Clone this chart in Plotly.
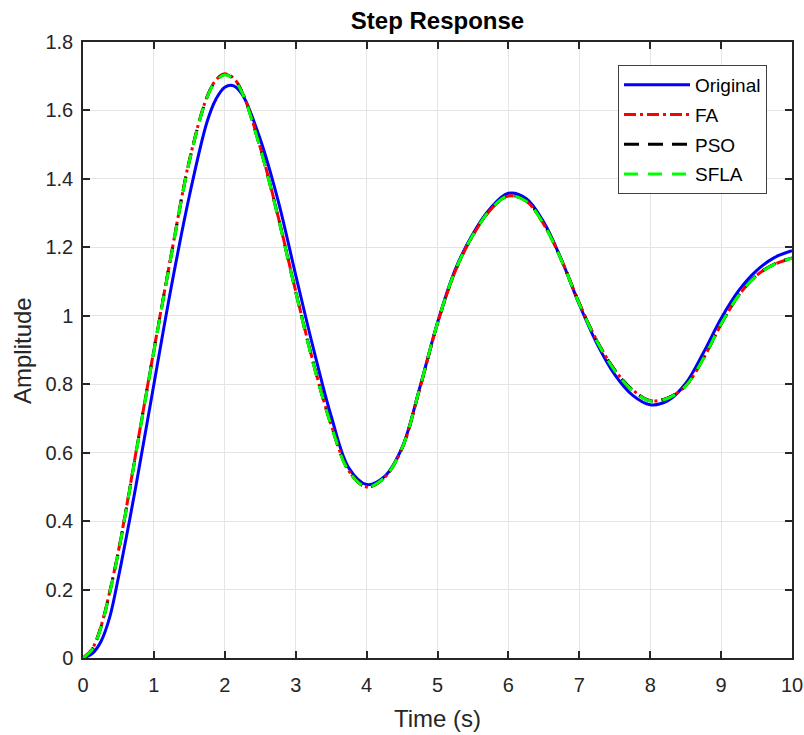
import plotly.graph_objects as go

# ---- data ----
time = [0.0, 0.125, 0.25, 0.375, 0.5, 0.625, 0.75, 1.0, 1.25, 1.5, 1.75, 1.875, 2.0,
        2.125, 2.25, 2.5, 2.75, 3.0, 3.25, 3.5, 3.75, 4.0, 4.25, 4.5, 4.75, 5.0,
        5.25, 5.5, 5.75, 6.0, 6.25, 6.5, 6.75, 7.0, 7.25, 7.5, 7.75, 8.0, 8.25, 8.5,
        8.75, 9.0, 9.25, 9.5, 9.75, 10.0]

original = [0.000, 0.012, 0.047, 0.118, 0.236, 0.368, 0.507, 0.800, 1.090, 1.350,
            1.567, 1.633, 1.668, 1.672, 1.645, 1.516, 1.338, 1.119, 0.904, 0.707,
            0.555, 0.507, 0.530, 0.615, 0.790, 0.980, 1.135, 1.240, 1.315, 1.358,
            1.343, 1.273, 1.163, 1.033, 0.918, 0.828, 0.768, 0.740, 0.752, 0.802,
            0.892, 0.992, 1.074, 1.132, 1.170, 1.190]

fa = [0.000, 0.025, 0.090, 0.192, 0.313, 0.455, 0.605, 0.900, 1.185, 1.454,
      1.640, 1.689, 1.707, 1.694, 1.652, 1.492, 1.292, 1.072, 0.862, 0.682,
      0.547, 0.500, 0.527, 0.612, 0.787, 0.977, 1.130, 1.235, 1.310, 1.350,
      1.335, 1.267, 1.162, 1.037, 0.927, 0.842, 0.784, 0.752, 0.760, 0.795,
      0.875, 0.975, 1.060, 1.118, 1.150, 1.168]

pso = [0.000, 0.024, 0.088, 0.190, 0.311, 0.453, 0.603, 0.898, 1.183, 1.452,
       1.639, 1.687, 1.705, 1.692, 1.650, 1.490, 1.290, 1.070, 0.860, 0.681,
       0.546, 0.500, 0.527, 0.613, 0.788, 0.978, 1.131, 1.236, 1.311, 1.351,
       1.336, 1.268, 1.162, 1.036, 0.926, 0.841, 0.783, 0.752, 0.760, 0.796,
       0.876, 0.976, 1.061, 1.118, 1.151, 1.169]

sfla = [0.000, 0.024, 0.087, 0.189, 0.310, 0.452, 0.602, 0.897, 1.182, 1.451,
        1.638, 1.686, 1.704, 1.691, 1.649, 1.489, 1.289, 1.069, 0.859, 0.680,
        0.545, 0.500, 0.527, 0.613, 0.789, 0.979, 1.132, 1.236, 1.311, 1.350,
        1.335, 1.267, 1.161, 1.035, 0.925, 0.840, 0.782, 0.751, 0.759, 0.795,
        0.875, 0.976, 1.060, 1.117, 1.150, 1.168]

x_ticks = [0, 1, 2, 3, 4, 5, 6, 7, 8, 9, 10]
y_ticks = [0, 0.2, 0.4, 0.6, 0.8, 1.0, 1.2, 1.4, 1.6, 1.8]
y_tick_text = ["0", "0.2", "0.4", "0.6", "0.8", "1", "1.2", "1.4", "1.6", "1.8"]

FONT = "Liberation Sans, Arial, Helvetica, sans-serif"
AX = "#262626"

fig = go.Figure()
fig.add_trace(go.Scatter(x=time, y=original, name="Original", mode="lines",
                         line=dict(color="#0000ff", width=3, shape="spline"),
                         legendgroup="a"))
fig.add_trace(go.Scatter(x=time, y=fa, name="FA", mode="lines",
                         line=dict(color="#ff0000", width=3, shape="spline",
                                   dash="12px,4px,3px,4px"),
                         legendgroup="b"))
fig.add_trace(go.Scatter(x=time, y=pso, name="PSO", mode="lines",
                         line=dict(color="#000000", width=3, shape="spline",
                                   dash="15px,9px"),
                         legendgroup="c"))
fig.add_trace(go.Scatter(x=time, y=sfla, name="SFLA", mode="lines",
                         line=dict(color="#00ff00", width=3, shape="spline",
                                   dash="14px,10px"),
                         legendgroup="d"))

axis_common = dict(
    showline=True, linecolor=AX, linewidth=1.5, mirror="ticks",
    ticks="inside", ticklen=7, tickwidth=1.5, tickcolor=AX,
    showgrid=True, gridcolor="#e4e4e4", gridwidth=1,
    zeroline=False, automargin=False,
    tickfont=dict(family=FONT, size=20, color=AX),
)

fig.update_xaxes(range=[0, 10], tickvals=x_ticks, ticklabelstandoff=8, **axis_common)
fig.update_yaxes(range=[0, 1.8], tickvals=y_ticks, ticktext=y_tick_text,
                 ticklabelstandoff=4, **axis_common)

fig.update_layout(
    width=804, height=735,
    margin=dict(l=83, r=12, t=42, b=77),
    paper_bgcolor="white", plot_bgcolor="white",
    font=dict(family=FONT, color=AX),
    title=dict(text="<b>Step Response</b>", x=0.5, xref="paper",
               y=1 - 21 / 735, yref="container", yanchor="middle",
               font=dict(family=FONT, size=24, color="#000000")),
    legend=dict(x=(618 - 83) / 709, y=(658 - 65) / 616, xanchor="left", yanchor="top",
                bgcolor="white", bordercolor="#404040", borderwidth=1,
                font=dict(family=FONT, size=19, color="#000000"),
                itemwidth=66, tracegroupgap=2),
    showlegend=True,
    annotations=[
        dict(text="Time (s)", xref="paper", yref="paper", x=0.5, y=(658 - 718) / 616,
             xanchor="center", yanchor="middle", showarrow=False,
             font=dict(family=FONT, size=24, color=AX)),
        dict(text="Amplitude", xref="paper", yref="paper", x=(22 - 83) / 709, y=0.5,
             xanchor="center", yanchor="middle", textangle=-90, showarrow=False,
             font=dict(family=FONT, size=24, color=AX)),
    ],
)

fig.write_html("out.html")
